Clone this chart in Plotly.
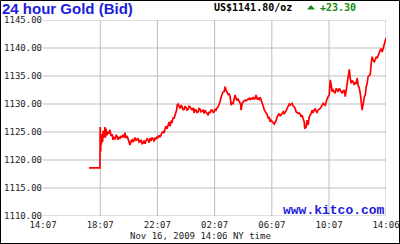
import plotly.graph_objects as go

# ---- data (minutes after 14:07 Nov 15, 2009 ; bid price US$/oz) ----
minutes = [193, 239, 240, 242, 243, 245, 248, 250, 252, 256, 260, 262, 264, 268, 273, 277, 281, 285, 290, 294,
           298, 303, 307, 311, 315, 319, 323, 328, 332, 336, 340, 344, 348, 353, 357, 361, 365, 370, 374, 378,
           382, 386, 390, 395, 399, 403, 407, 411, 416, 420, 424, 428, 432, 437, 441, 445, 449, 453, 457, 462,
           466, 470, 474, 478, 483, 487, 491, 495, 500, 504, 508, 512, 516, 520, 525, 529, 533, 538, 542, 546,
           550, 554, 558, 561, 563, 567, 571, 575, 580, 584, 588, 592, 596, 600, 604, 609, 613, 617, 621, 625,
           630, 634, 638, 642, 646, 651, 655, 659, 663, 667, 672, 676, 680, 684, 688, 693, 697, 701, 705, 709,
           714, 718, 722, 726, 730, 735, 739, 743, 747, 751, 755, 760, 764, 768, 772, 777, 781, 785, 789, 793,
           798, 802, 806, 810, 814, 818, 823, 827, 829, 831, 835, 840, 844, 848, 852, 856, 861, 865, 869, 873,
           878, 882, 886, 890, 894, 899, 903, 907, 911, 915, 920, 924, 928, 932, 936, 940, 945, 949, 953, 957,
           961, 966, 970, 974, 978, 982, 987, 991, 995, 999, 1004, 1008, 1012, 1016, 1020, 1024, 1029, 1033, 1037, 1041,
           1045, 1050, 1054, 1058, 1062, 1066, 1070, 1075, 1079, 1083, 1087, 1091, 1096, 1098, 1100, 1104, 1108, 1112, 1117, 1121,
           1125, 1129, 1133, 1138, 1142, 1146, 1150, 1154, 1158, 1163, 1167, 1171, 1175, 1180, 1184, 1188, 1192, 1196, 1201, 1203,
           1205, 1207, 1209, 1213, 1217, 1222, 1226, 1230, 1234, 1238, 1243, 1247, 1251, 1255, 1259, 1264, 1268, 1272, 1276, 1280,
           1285, 1289, 1293, 1297, 1301, 1306, 1310, 1314, 1318, 1322, 1327, 1331, 1335, 1339, 1341, 1343, 1348, 1352, 1356, 1360,
           1364, 1369, 1373, 1377, 1381, 1385, 1390, 1394, 1398, 1402, 1406, 1411, 1415, 1419, 1423, 1427, 1432, 1436, 1439]
price = [1118.6, 1118.6, 1125.9, 1121.5, 1124.5, 1122.8, 1124.6, 1123.2, 1125.2, 1124.0, 1125.9, 1124.0, 1125.6, 1124.4, 1125.1, 1124.7, 1125.4, 1124.3, 1124.6, 1123.6,
         1124.0, 1123.8, 1124.5, 1124.2, 1123.6, 1124.1, 1123.9, 1124.3, 1124.0, 1124.5, 1124.0, 1124.9, 1123.9, 1124.3, 1123.6, 1123.1, 1122.7, 1123.4, 1123.6, 1123.2,
         1123.8, 1124.0, 1123.5, 1123.6, 1123.9, 1123.2, 1123.3, 1123.6, 1122.9, 1123.0, 1123.5, 1122.9, 1123.4, 1123.8, 1123.6, 1123.1, 1123.9, 1123.4, 1124.0, 1123.75,
         1123.3, 1124.0, 1123.7, 1124.1, 1124.0, 1124.4, 1124.1, 1124.6, 1124.9, 1125.05, 1124.8, 1125.6, 1126.0, 1125.6, 1126.5, 1126.8, 1126.0, 1126.9, 1126.8, 1127.6,
         1127.4, 1128.0, 1128.3, 1129.0, 1129.8, 1130.0, 1129.6, 1129.2, 1129.8, 1129.5, 1129.0, 1129.05, 1129.6, 1129.4, 1128.9, 1129.05, 1129.6, 1129.5, 1129.0, 1128.9,
         1129.3, 1128.4, 1129.0, 1128.9, 1128.5, 1128.6, 1129.2, 1129.05, 1128.6, 1128.8, 1128.9, 1128.3, 1128.9, 1128.6, 1128.2, 1128.0, 1128.6, 1128.4, 1128.9, 1128.9,
         1128.5, 1128.6, 1129.1, 1128.9, 1129.3, 1129.5, 1130.0, 1130.4, 1131.2, 1131.9, 1132.1, 1132.2, 1133.1, 1132.4, 1132.2, 1131.6, 1131.9, 1131.3, 1129.8, 1130.2,
         1130.1, 1130.9, 1131.6, 1131.0, 1130.7, 1130.9, 1130.4, 1130.2, 1130.0, 1128.9, 1130.0, 1130.4, 1130.6, 1130.7, 1130.6, 1130.8, 1130.9, 1131.0, 1130.8, 1131.0,
         1130.9, 1131.2, 1130.9, 1131.0, 1131.6, 1130.8, 1131.0, 1130.8, 1131.2, 1130.7, 1130.2, 1129.6, 1129.0, 1128.6, 1128.4, 1128.2, 1127.4, 1127.7, 1126.8, 1127.1,
         1126.9, 1126.8, 1126.4, 1126.8, 1127.0, 1127.7, 1128.0, 1128.3, 1127.9, 1128.0, 1128.4, 1128.6, 1128.3, 1128.5, 1128.8, 1129.2, 1129.6, 1130.0, 1129.8, 1129.9,
         1130.1, 1129.6, 1129.5, 1129.2, 1128.6, 1128.5, 1128.3, 1128.4, 1128.2, 1127.7, 1128.0, 1127.4, 1126.8, 1125.6, 1125.7, 1125.9, 1127.1, 1126.25, 1127.7, 1127.9,
         1128.3, 1128.9, 1128.4, 1129.0, 1129.2, 1128.7, 1128.5, 1128.9, 1129.0, 1129.2, 1129.5, 1129.9, 1130.1, 1129.9, 1129.8, 1130.4, 1130.9, 1131.3, 1131.6, 1132.5,
         1134.3, 1133.9, 1133.4, 1132.2, 1132.5, 1132.0, 1131.9, 1132.8, 1132.4, 1132.2, 1132.8, 1132.4, 1132.2, 1131.9, 1132.3, 1132.5, 1131.3, 1132.5, 1134.0, 1135.2,
         1136.2, 1134.6, 1133.7, 1134.2, 1134.0, 1133.4, 1133.8, 1133.7, 1134.6, 1133.4, 1132.8, 1131.9, 1130.1, 1128.9, 1129.6, 1129.8, 1131.3, 1131.6, 1133.1, 1133.7,
         1134.9, 1135.2, 1135.3, 1137.3, 1138.45, 1137.8, 1137.55, 1137.9, 1138.45, 1138.2, 1138.75, 1139.05, 1139.6, 1139.9, 1139.3, 1139.9, 1140.8, 1141.7, 1141.8]

x_tick_vals = [0, 240, 480, 720, 960, 1200, 1439]
x_tick_text = ["14:07", "18:07", "22:07", "02:07", "06:07", "10:07", "14:06"]
y_tick_vals = [1110, 1115, 1120, 1125, 1130, 1135, 1140, 1145]
y_tick_text = ["%.2f" % v for v in y_tick_vals]

title_text = "24 hour Gold (Bid)"
price_text = "US$1141.80/oz"
change_text = "+23.30"
site_text = "www.kitco.com"
date_text = "Nov 16, 2009 14:06 NY time"

# ---- layout geometry ----
W, H = 400, 244
ML, MR, MT, MB = 43, 14, 20, 28
PW, PH = W - ML - MR, H - MT - MB


def pxx(x):
    return (x - ML) / PW


def pxy(y):
    return (H - MB - y) / PH


BLUE = "#1c1cdc"
GREEN = "#128a12"
GRID = "#bdbdbd"
MONO = "DejaVu Sans Mono"

fig = go.Figure()
fig.add_trace(go.Scatter(x=minutes, y=price, mode="lines",
                         line=dict(color="#ff0000", width=1.7),
                         hoverinfo="skip", showlegend=False))

shapes = []
for v in y_tick_vals:
    shapes.append(dict(type="line", xref="paper", yref="y", x0=0, x1=1, y0=v, y1=v,
                       line=dict(color=GRID, width=1), layer="below"))
for t in x_tick_vals[1:]:
    shapes.append(dict(type="line", xref="x", yref="paper", x0=t, x1=t, y0=0, y1=1,
                       line=dict(color=GRID, width=1), layer="below"))
# outer border
shapes.append(dict(type="rect", xref="paper", yref="paper",
                   x0=pxx(0.5), x1=pxx(W - 0.5), y0=pxy(0.5), y1=pxy(H - 0.5),
                   line=dict(color="black", width=1), fillcolor="rgba(0,0,0,0)"))
# green up triangle
tx0, tx1, tyt, tyb = 307, 315, 5, 9.5
shapes.append(dict(type="path", xref="paper", yref="paper",
                   path="M %f %f L %f %f L %f %f Z" % (pxx(tx0), pxy(tyb), pxx(tx1), pxy(tyb),
                                                      pxx((tx0 + tx1) / 2), pxy(tyt)),
                   fillcolor=GREEN, line=dict(color=GREEN, width=0)))

annotations = [
    dict(text="<b>%s</b>" % title_text, x=pxx(0), y=pxy(8.5), xref="paper", yref="paper",
         xanchor="left", yanchor="middle", showarrow=False,
         font=dict(family="Liberation Sans", size=15, color=BLUE)),
    dict(text="<b>%s</b>" % price_text, x=pxx(212), y=pxy(7.5), xref="paper", yref="paper",
         xanchor="left", yanchor="middle", showarrow=False,
         font=dict(family=MONO, size=10, color="black")),
    dict(text="<b>%s</b>" % change_text, x=pxx(318), y=pxy(7.5), xref="paper", yref="paper",
         xanchor="left", yanchor="middle", showarrow=False,
         font=dict(family=MONO, size=10, color=GREEN)),
    dict(text="<b>%s</b>" % site_text, x=pxx(387), y=pxy(210.5), xref="paper", yref="paper",
         xanchor="right", yanchor="middle", showarrow=False,
         font=dict(family="Liberation Mono", size=13, color=BLUE)),
    dict(text=date_text, x=pxx(200), y=pxy(236), xref="paper", yref="paper",
         xanchor="center", yanchor="middle", showarrow=False,
         font=dict(family=MONO, size=9, color="#222222")),
]

fig.update_layout(
    width=W, height=H,
    margin=dict(l=ML, r=MR, t=MT, b=MB, pad=0, autoexpand=False),
    paper_bgcolor="white", plot_bgcolor="white",
    shapes=shapes, annotations=annotations,
    showlegend=False,
    xaxis=dict(range=[0, 1439], tickvals=x_tick_vals, ticktext=x_tick_text,
               showgrid=False, zeroline=False, showline=False, ticks="", automargin=False,
               ticklabelstandoff=2,
               tickfont=dict(family=MONO, size=9, color="#222222"), fixedrange=True),
    yaxis=dict(range=[1110, 1145], tickvals=y_tick_vals, ticktext=y_tick_text,
               showgrid=False, zeroline=False, showline=False, ticks="", automargin=False,
               tickfont=dict(family=MONO, size=9, color="#222222"), fixedrange=True),
)

fig.write_html("out.html", config={"displayModeBar": False})
